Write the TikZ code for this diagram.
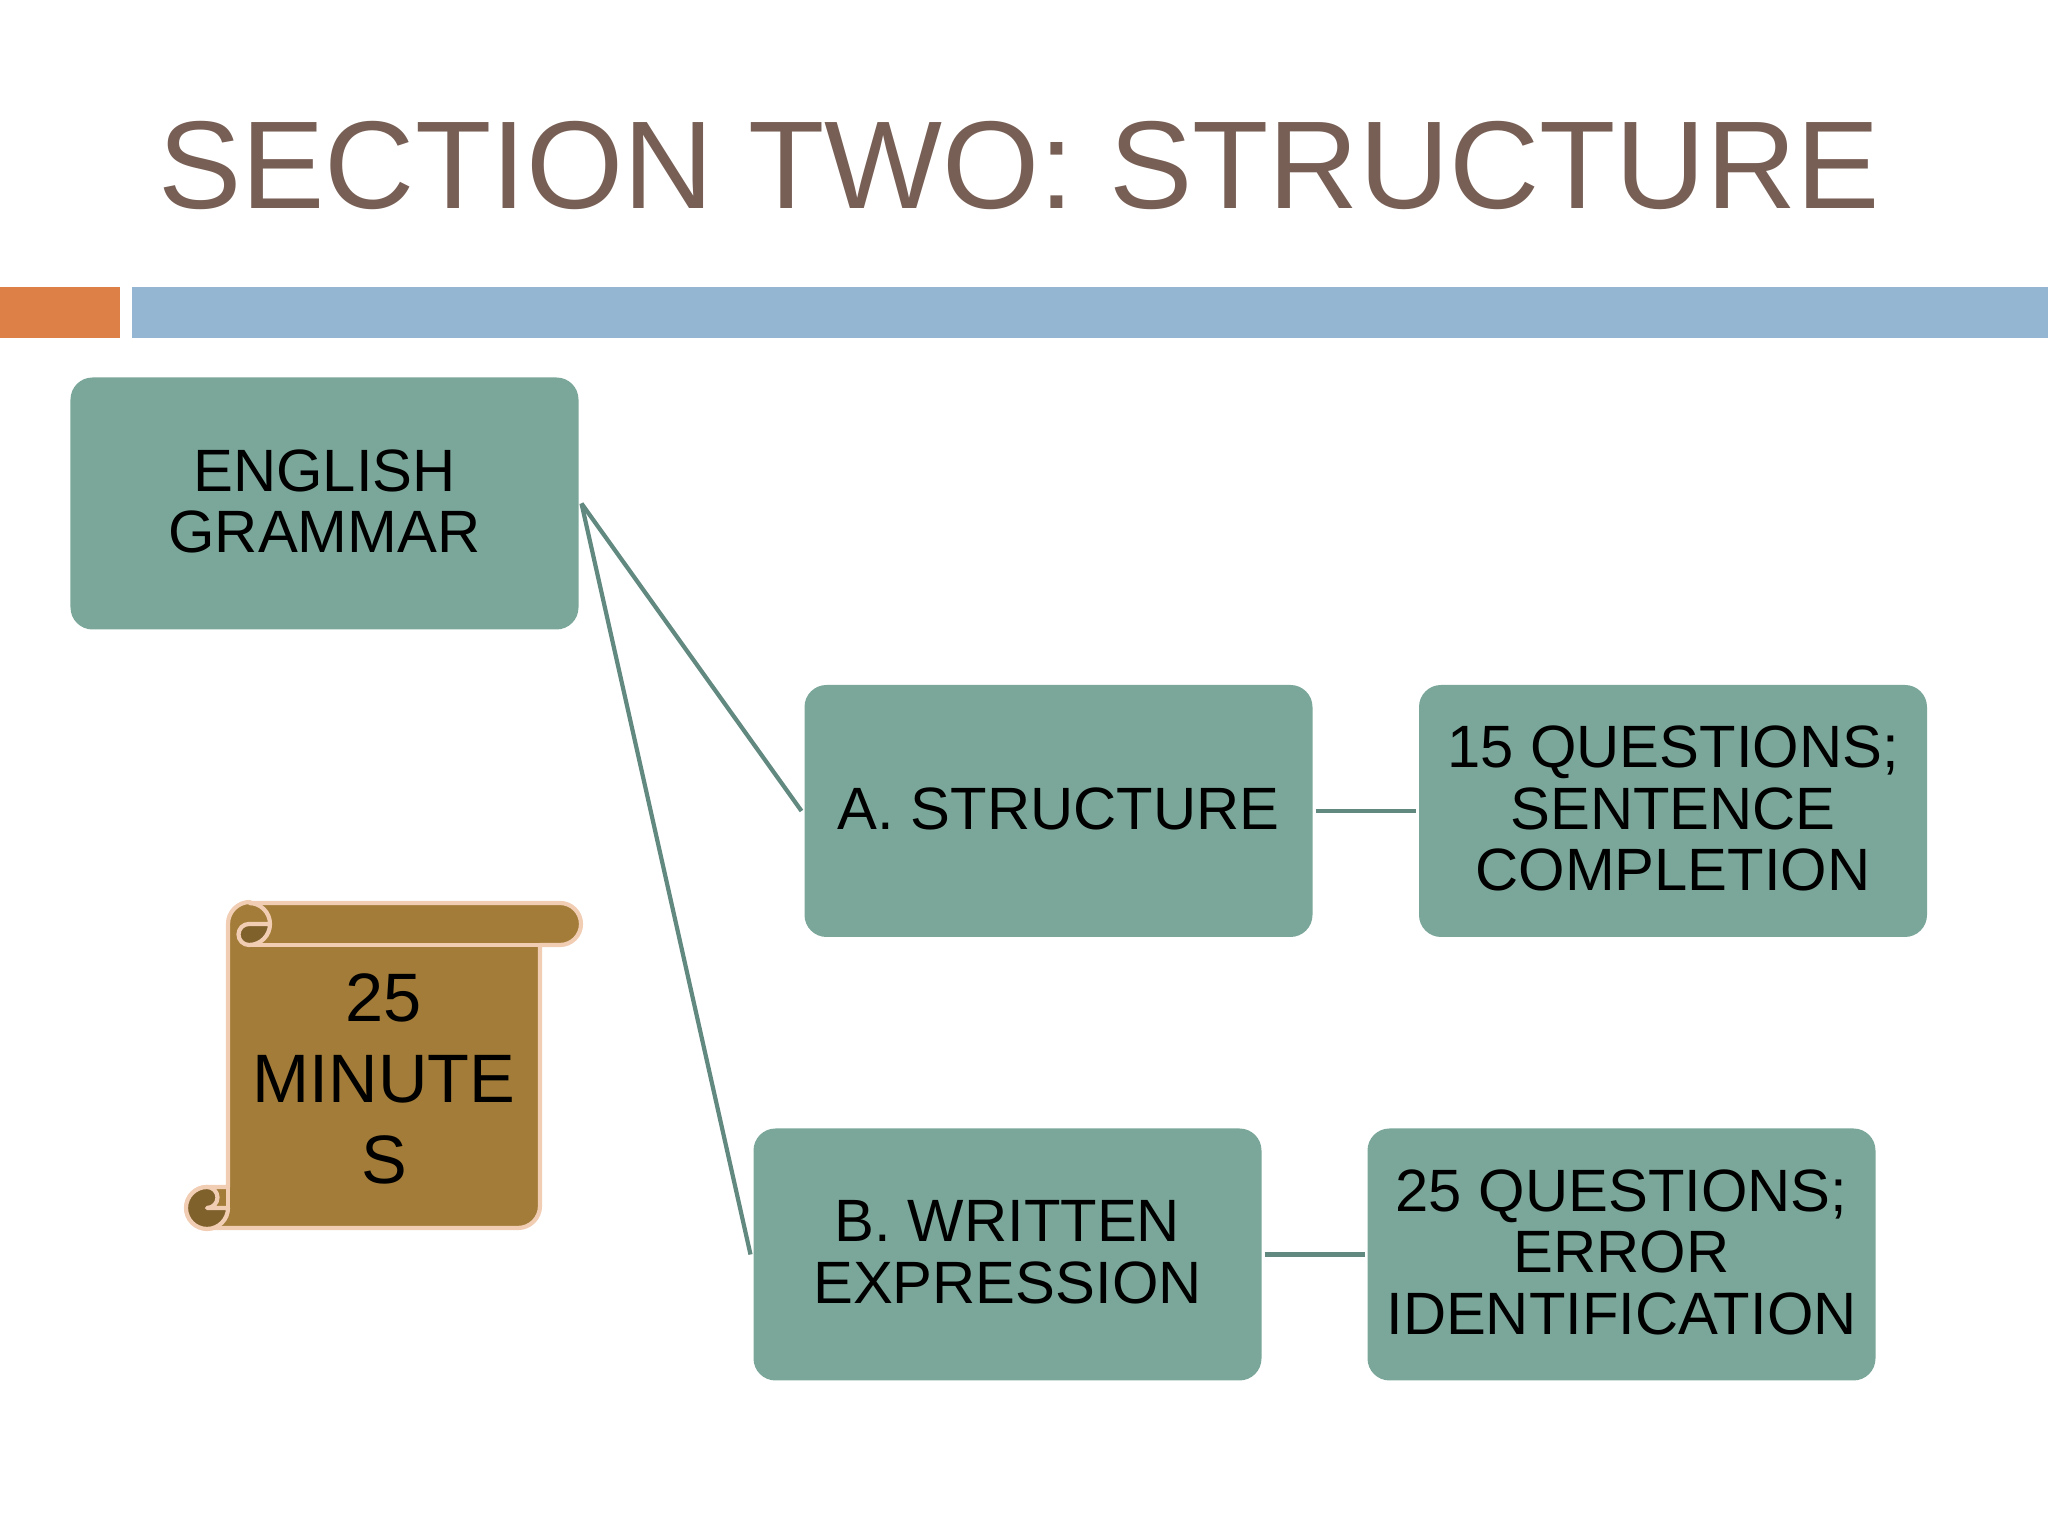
\documentclass[tikz,border=0pt]{standalone}
\usepackage{fontspec}
\setmainfont{Liberation Sans}
\definecolor{verde}{HTML}{7BA79A}
\definecolor{verdelinha}{HTML}{62897F}
\definecolor{marrom}{HTML}{775F55}
\definecolor{laranja}{HTML}{DD8047}
\definecolor{azul}{HTML}{94B6D2}
\definecolor{pergaminho}{HTML}{A27C38}
\definecolor{pergescuro}{HTML}{7F612C}
\definecolor{bordaperg}{HTML}{F1CDB4}

\begin{document}
\begin{tikzpicture}[
	box/.style={fill=verde, rectangle, rounded corners=0.22cm, minimum width=5.08cm, minimum height=2.52cm, inner sep=0pt, outer sep=0.03cm, align=center, text=black, text depth=0.05cm, font=\fontsize{17}{17.5}\selectfont},
	linha/.style={draw=verdelinha, line width=1.2pt},
	borda/.style={draw=bordaperg, line width=1.2pt, line join=round}
	]
	\useasboundingbox (0,0) rectangle (20.48,15.36);

	\node[text=marrom, inner sep=0pt, font=\fontsize{35.55}{40}\selectfont] (titulo) at (10.19,13.70) {SECTION TWO: STRUCTURE};
	\fill[laranja] (0,11.98) rectangle (1.2,12.49);
	\fill[azul] (1.32,11.98) rectangle (20.48,12.49);

	\node[box] (grammar) at (3.245,10.325) {ENGLISH\\GRAMMAR};
	\node[box] (structure) at (10.585,7.25) {A. STRUCTURE};
	\node[box] (questoes1) at (16.73,7.25) {15 QUESTIONS;\\SENTENCE\\COMPLETION};
	\node[box] (written) at (10.075,2.815) {B. WRITTEN\\EXPRESSION};
	\node[box] (questoes2) at (16.215,2.815) {25 QUESTIONS;\\ERROR\\IDENTIFICATION};

	\draw[linha] (grammar.east) -- (structure.west);
	\draw[linha] (grammar.east) -- (written.west);
	\draw[linha] (structure) -- (questoes1);
	\draw[linha] (written) -- (questoes2);

	% pergaminho
	\filldraw[borda, fill=pergaminho] (2.50,6.33) -- (5.60,6.33) arc[start angle=90, end angle=-90, radius=0.21] -- (5.40,5.91) -- (5.40,3.30) arc[start angle=0, end angle=-90, radius=0.22] -- (2.07,3.08) arc[start angle=270, end angle=90, radius=0.205] -- (2.28,3.49) -- (2.28,6.12) arc[start angle=180, end angle=90, radius=0.22] -- cycle;
	\filldraw[borda, fill=pergescuro] (2.70,6.12) arc[start angle=0, end angle=-90, radius=0.21] arc[start angle=270, end angle=90, radius=0.105] -- cycle;
	\draw[borda] (2.49,6.33) arc[start angle=90, end angle=0, radius=0.21];
	\draw[borda] (2.49,5.91) -- (5.60,5.91);
	\filldraw[borda, fill=pergescuro] (2.07,3.49) arc[start angle=90, end angle=270, radius=0.21] arc[start angle=270, end angle=360, radius=0.21] -- (2.07,3.28) arc[start angle=-90, end angle=90, radius=0.105];
	\draw[borda] (2.07,3.49) -- (2.28,3.49) -- (2.28,3.28);

	\node[align=center, inner sep=0pt, text=black, font=\fontsize{19.5}{23}\selectfont] (minutos) at (3.84,4.57) {25\\MINUTE\\S};
\end{tikzpicture}
\end{document}
